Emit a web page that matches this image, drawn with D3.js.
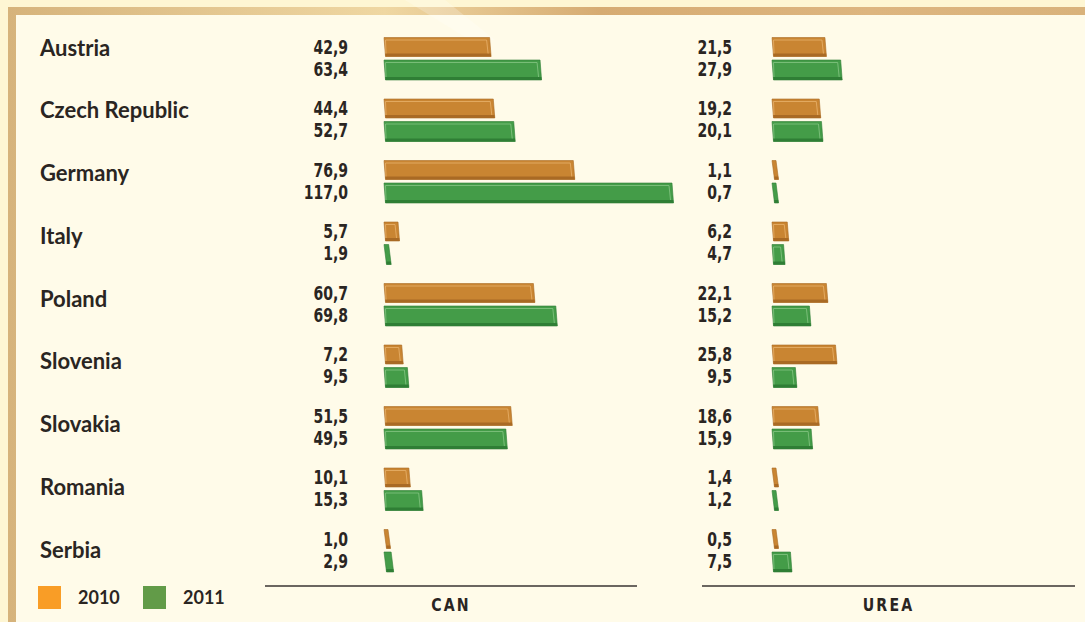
<!DOCTYPE html>
<html>
<head>
<meta charset="utf-8">
<script src="https://cdn.jsdelivr.net/npm/d3@7"></script>
<style>
  html, body { margin: 0; padding: 0; background: #fef6d3; }
  svg { display: block; }
</style>
</head>
<body>
<div id="chart-area"></div>
<script>
// fertilizer figures per country, two years, two products
let countries = ["Austria", "Czech Republic", "Germany", "Italy", "Poland",
                 "Slovenia", "Slovakia", "Romania", "Serbia"];
let years = ["2010", "2011"];
let can2010 = [42.9, 44.4, 76.9, 5.7, 60.7, 7.2, 51.5, 10.1, 1.0];
let can2011 = [63.4, 52.7, 117.0, 1.9, 69.8, 9.5, 49.5, 15.3, 2.9];
let urea2010 = [21.5, 19.2, 1.1, 6.2, 22.1, 25.8, 18.6, 1.4, 0.5];
let urea2011 = [27.9, 20.1, 0.7, 4.7, 15.2, 9.5, 15.9, 1.2, 7.5];
let panels = ["CAN", "UREA"];

let width = 1085;
let height = 622;

let svg = d3.select("#chart-area")
            .append("svg")
            .attr("width", width)
            .attr("height", height);

let defs = svg.append("defs");
let grad = defs.append("linearGradient")
               .attr("id", "frame")
               .attr("x1", "0%").attr("x2", "100%");
[["0%", "#d6b37b"], ["35%", "#efd7a2"], ["55%", "#d6ab72"], ["80%", "#ddb57f"], ["100%", "#d9b27b"]]
    .forEach(function(s){
        grad.append("stop").attr("offset", s[0]).attr("stop-color", s[1]);
    });

// backgrounds and frame
svg.append("rect").attr("width", width).attr("height", height).attr("fill", "#fef6d3");
svg.append("rect").attr("x", 8).attr("y", 7).attr("width", width - 8).attr("height", height - 7)
   .attr("fill", "url(#frame)");
svg.append("rect").attr("x", 16).attr("y", 15).attr("width", width - 16).attr("height", height - 15)
   .attr("fill", "#fffbe9");
// faint light ray at the top
svg.append("path")
   .attr("d", "M405,0 L445,0 L495,40 L470,40 Z")
   .attr("fill", "#ffffff").attr("opacity", 0.22);

let fmt = d3.formatLocale({decimal: ",", thousands: ".", grouping: [3], currency: ["", ""]}).format(".1f");

let colors = d3.scaleOrdinal().domain(years).range(["#c98532", "#449c48"]);
let darkColors = d3.scaleOrdinal().domain(years).range(["#a96a24", "#2f7e35"]);
let lightColors = d3.scaleOrdinal().domain(years).range(["#e8b16b", "#86c583"]);
let legendColors = d3.scaleOrdinal().domain(years).range(["#f99d26", "#629b48"]);

// rows: labels and bar groups
let labelY = d3.scalePoint().domain(countries).range([48, 550]);
let groupY = d3.scalePoint().domain(countries).range([58.5, 550.5]);

let xCan = d3.scaleLinear().domain([0, 117]).range([384, 672]);
let xUrea = d3.scaleLinear().domain([0, 117]).range([772, 1060]);

let panelDefs = [
    {name: "CAN", x: xCan, v2010: can2010, v2011: can2011, labelX: 348, lineX: [265, 637]},
    {name: "UREA", x: xUrea, v2010: urea2010, v2011: urea2011, labelX: 732, lineX: [702, 1075]}
];

let narrow = "'Liberation Sans Narrow', 'DejaVu Sans Condensed', sans-serif";

svg.append("g")
   .selectAll("text")
   .data(countries)
   .enter()
   .append("text")
   .attr("x", 40)
   .attr("y", function(d){ return labelY(d); })
   .attr("dy", "0.35em")
   .style("font-family", "Lato, 'Open Sans', sans-serif")
   .style("font-weight", "bold")
   .style("font-size", "22px")
   .style("fill", "#2a2522")
   .text(function(d){ return d; });

function drawBar(g, x0, x1, y, h, year){
    let w = Math.max(x1 - x0, 4);
    let s = w < 8 ? 2.5 : 1.5;
    g.append("path")
     .attr("d", "M" + x0 + "," + y + " L" + (x0 + w) + "," + y +
                " L" + (x0 + w + s) + "," + (y + h) + " L" + (x0 + s) + "," + (y + h) + " Z")
     .attr("fill", colors(year))
     .attr("stroke", darkColors(year))
     .attr("stroke-width", 0.6);
    g.append("path")
     .attr("d", "M" + (x0 + s - 0.3) + "," + (y + h - 3) + " L" + (x0 + w + s - 0.3) + "," + (y + h - 3) +
                " L" + (x0 + w + s) + "," + (y + h) + " L" + (x0 + s) + "," + (y + h) + " Z")
     .attr("fill", darkColors(year));
    if (w > 8) {
        g.append("path")
         .attr("d", "M" + (x0 + 2) + "," + (y + h - 3) + " L" + (x0 + 1.5) + "," + (y + 2.5) +
                    " L" + (x0 + w - 3) + "," + (y + 2.5) + " L" + (x0 + w - 1.5) + "," + (y + h - 3))
         .attr("fill", "none")
         .attr("stroke", lightColors(year))
         .attr("stroke-width", 1)
         .attr("opacity", 0.8);
    }
}

panelDefs.forEach(function(p){
    let g = svg.append("g").attr("class", "panel");

    countries.forEach(function(c, i){
        let cy = groupY(c);
        let series = [
            {year: "2010", value: p.v2010[i], top: cy - 21, h: 19},
            {year: "2011", value: p.v2011[i], top: cy + 1.5, h: 20}
        ];
        series.forEach(function(s){
            drawBar(g, p.x(0), p.x(s.value), s.top, s.h, s.year);
            // condensed numbers: squeeze a regular face horizontally
            g.append("text")
             .attr("transform", "translate(" + p.labelX + "," +
                   (s.top + s.h / 2 + (s.year === "2010" ? 0 : -1)) + ") scale(0.8,1)")
             .attr("dy", "0.35em")
             .attr("text-anchor", "end")
             .style("font-family", narrow)
             .style("font-weight", "bold")
             .style("font-size", "19.5px")
             .style("fill", "#2a2522")
             .text(fmt(s.value));
        });
    });

    g.append("line")
     .attr("x1", p.lineX[0]).attr("x2", p.lineX[1])
     .attr("y1", 586).attr("y2", 586)
     .attr("stroke", "#6b6660")
     .attr("stroke-width", 2);

    g.append("text")
     .attr("transform", "translate(" + ((p.lineX[0] + p.lineX[1]) / 2) + ",605) scale(0.85,1)")
     .attr("dy", "0.35em")
     .attr("text-anchor", "middle")
     .style("font-family", narrow)
     .style("font-weight", "bold")
     .style("font-size", "18.5px")
     .style("letter-spacing", "2.5px")
     .style("fill", "#2a2522")
     .text(p.name);
});

// legend
let legend = svg.append("g")
                .selectAll("g")
                .data(years)
                .enter()
                .append("g")
                .attr("transform", function(d, i){ return "translate(" + (38 + i * 105) + ",586)"; });

legend.append("rect")
      .attr("width", 23)
      .attr("height", 23)
      .attr("fill", function(d){ return legendColors(d); });

legend.append("text")
      .attr("x", 40)
      .attr("y", 11.5)
      .attr("dy", "0.35em")
      .style("font-family", "Lato, sans-serif")
      .style("font-weight", "bold")
      .style("font-size", "18px")
      .style("fill", "#2a2522")
      .text(function(d){ return d; });
</script>
</body>
</html>
